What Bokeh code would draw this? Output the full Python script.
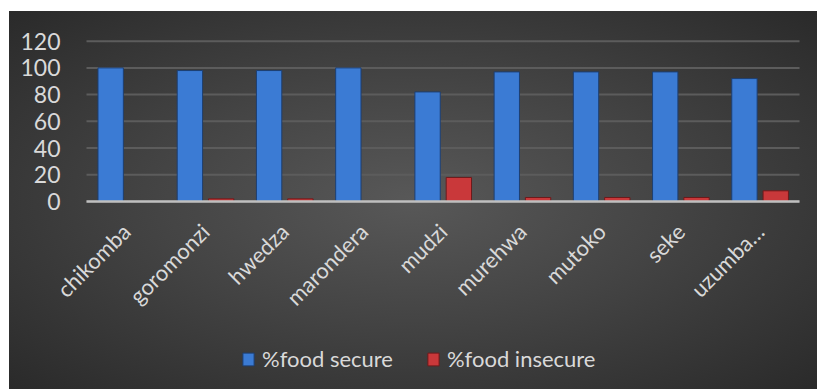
import numpy as np
from bokeh.plotting import figure
from bokeh.models import FixedTicker, Legend, LegendItem, Spacer, ColumnDataSource, Range1d
from bokeh.layouts import row, column
from bokeh.embed import file_html
from bokeh.resources import INLINE

districts = ["chikomba", "goromonzi", "hwedza", "marondera", "mudzi",
             "murehwa", "mutoko", "seke", "uzumba\u2026"]
food_secure = [100, 98, 98, 100, 82, 97, 97, 97, 92]
food_insecure = [0, 2, 2, 0, 18, 3, 3, 3, 8]
y_ticks = [0, 20, 40, 60, 80, 100, 120]

n = len(districts)
centers = np.arange(n) + 0.5
src = ColumnDataSource(dict(x_sec=centers - 0.195, x_ins=centers + 0.2,
                            secure=food_secure, insecure=food_insecure))

FONT = "Lato"
TXT = "#d9d9d9"

# The frame covers the whole chart; axes are pinned at the data origin so that
# rotated labels and the legend are not clipped.
p = figure(x_range=Range1d(-0.972, n + 0.227), y_range=Range1d(-140.7, 142.2),
           width=808, height=378, output_backend="svg", toolbar_location=None,
           min_border=0)
p.styles = {"background": "radial-gradient(ellipse at 50% 50%, #585858 0%, #444444 45%, #2a2a2a 100%)"}
p.border_fill_alpha = 0
p.background_fill_alpha = 0
p.outline_line_color = None
p.xgrid.grid_line_color = None
p.ygrid.grid_line_color = None

# horizontal gridlines spanning the category area only
p.segment(x0=[0] * len(y_ticks), x1=[n] * len(y_ticks), y0=y_ticks, y1=y_ticks,
          line_color="#5c5c5c", line_width=2)

r1 = p.vbar(x="x_sec", top="secure", width=0.32, source=src,
            fill_color="#3b7bd4", line_color="#1d3f72", line_width=1)
r2 = p.vbar(x="x_ins", top="insecure", width=0.32, source=src,
            fill_color="#c9383a", line_color="#6e1a1b", line_width=1)

p.yaxis.fixed_location = 0
p.yaxis.ticker = FixedTicker(ticks=y_ticks)
p.yaxis.axis_line_color = None
p.yaxis.major_tick_line_color = None
p.yaxis.minor_tick_line_color = None
p.yaxis.major_label_text_font = FONT
p.yaxis.major_label_text_font_size = "23px"
p.yaxis.major_label_text_color = TXT
p.yaxis.major_label_standoff = 20

p.xaxis.fixed_location = 0
p.xaxis.bounds = (0, n)
p.xaxis.ticker = FixedTicker(ticks=list(centers))
p.xaxis.major_label_overrides = {float(c): d for c, d in zip(centers, districts)}
p.xaxis.axis_line_color = "#bfbfbf"
p.xaxis.axis_line_width = 2.5
p.xaxis.major_tick_line_color = None
p.xaxis.minor_tick_line_color = None
p.xaxis.major_label_orientation = 0.785398
p.xaxis.major_label_text_font = FONT
p.xaxis.major_label_text_font_size = "22px"
p.xaxis.major_label_text_color = TXT
p.xaxis.major_label_standoff = 20

legend = Legend(items=[LegendItem(label="%food secure", renderers=[r1]),
                       LegendItem(label="%food insecure", renderers=[r2])],
                orientation="horizontal", location=(232, 17),
                padding=0, margin=0, spacing=33, label_standoff=7,
                glyph_width=14, glyph_height=16,
                border_line_alpha=0, background_fill_alpha=0,
                label_text_font=FONT, label_text_font_size="22px", label_text_color=TXT)
p.add_layout(legend, "center")

layout = row(Spacer(width=9), column(Spacer(height=11), p), spacing=0)
layout.styles = {"background": "white"}
open("out.html", "w").write(file_html(layout, INLINE))
